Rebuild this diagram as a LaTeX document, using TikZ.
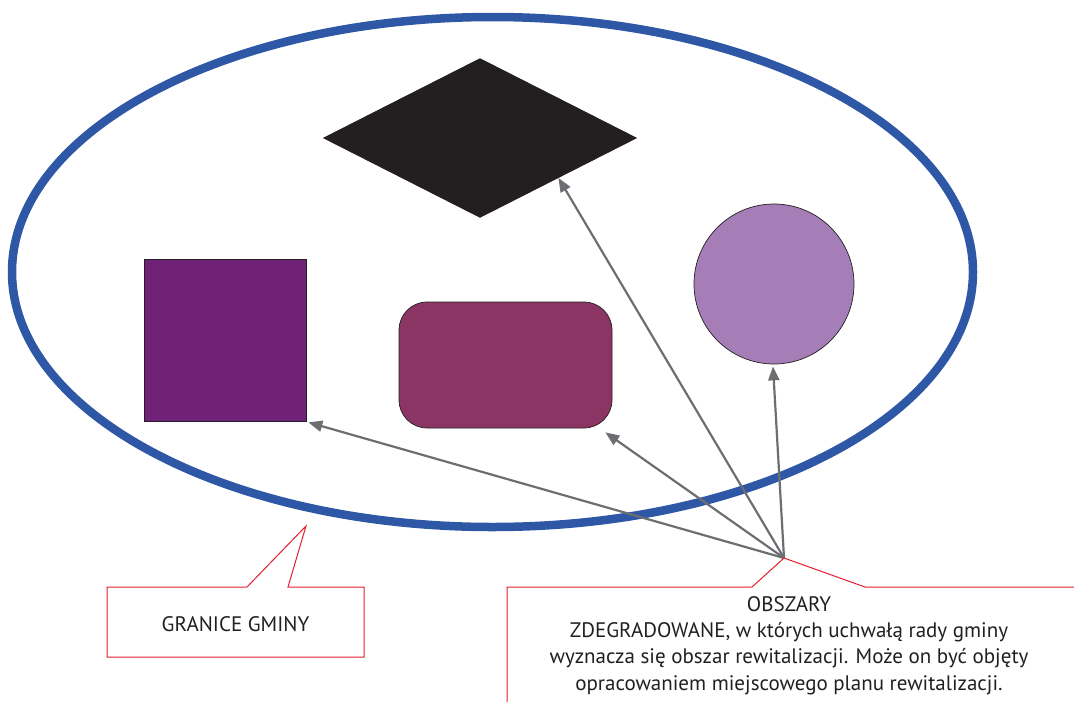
\documentclass[tikz,border=0pt]{standalone}
\usepackage{fontspec}
\setmainfont{PT Sans}
\usepackage{tikz}
\usetikzlibrary{positioning, arrows.meta, shapes.geometric, calc}

\definecolor{gminablue}{RGB}{46,88,166}
\definecolor{sqpurple}{RGB}{112,34,120}
\definecolor{rectplum}{RGB}{139,53,101}
\definecolor{circlilac}{RGB}{165,125,183}
\definecolor{darkink}{RGB}{35,31,32}
\definecolor{arrowgray}{RGB}{109,110,113}
\definecolor{calloutred}{RGB}{226,30,45}

\begin{document}
\begin{tikzpicture}[x=1pt, y=-1pt,
		area/.style={draw=darkink, line width=0.7pt, inner sep=0pt},
		pointer/.style={arrowgray, line width=2.2pt, -{Triangle[length=14pt, width=11pt]}},
		callout/.style={calloutred, line width=1pt},
		label/.style={text=darkink, font=\fontsize{21}{26.4}\selectfont, align=center}]
					\useasboundingbox (0,0) rectangle (1074,702);
					\draw[gminablue, line width=8.5pt] (492.5,272) ellipse [x radius=480.5, y radius=255];
					\node[area, diamond, fill=darkink, minimum width=313pt, minimum height=159pt] (diam) at (480,138) {};
					\node[area, rectangle, fill=sqpurple, minimum size=162pt] (sq) at (225,340) {};
					\node[area, rectangle, rounded corners=28pt, fill=rectplum, minimum width=213pt, minimum height=126pt] (rrect) at (505.5,365) {};
					\node[area, circle, fill=circlilac, minimum size=160pt] (circ) at (774,284) {};
					\coordinate (hub) at (784,558);
					\draw[pointer] (hub) -- ($(sq.south east)+(2,1)$);
					\draw[pointer] (hub) -- ($(rrect.south east)+(-7,4)$);
					\draw[pointer] (hub) -- (diam.south east);
					\draw[pointer] (hub) -- ($(circ.south)+(-1,2)$);
					% callouts
					\coordinate (tail) at (306,526);
					\draw[callout] (107,587) -- (247,587) -- (tail) -- (288,587) -- (364,587) -- (364,657) -- (107,657) -- cycle;
					\node[label] (granice) at (235.5,624) {GRANICE GMINY};
					\draw[callout] (507,702) -- (507,587) -- (752,587) -- (hub) -- (865,587) -- (1074,587);
					\node[label] (obszary) at (789,645.5) {OBSZARY\\ZDEGRADOWANE, w których uchwałą rady gminy\\wyznacza się obszar rewitalizacji. Może on być objęty\\opracowaniem miejscowego planu rewitalizacji.};
				\end{tikzpicture}
\end{document}
